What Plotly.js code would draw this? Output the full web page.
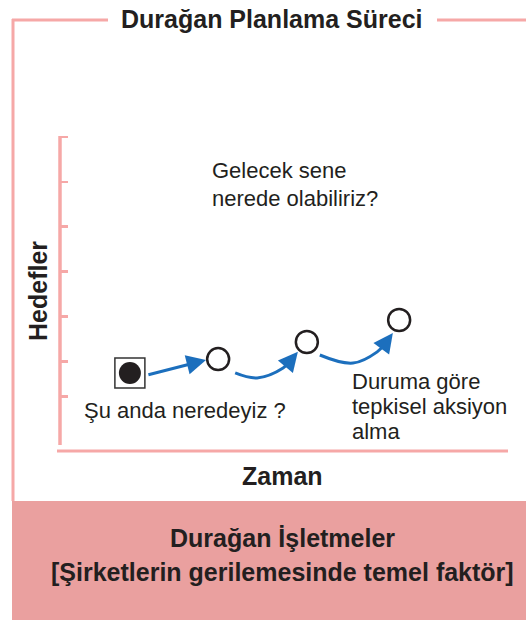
<!DOCTYPE html>
<html>
<head>
<meta charset="utf-8">
<script src="https://cdn.plot.ly/plotly-3.0.1.min.js"></script>
<style>html,body{margin:0;padding:0;background:#fff;}#chart{width:526px;height:620px;}</style>
</head>
<body>
<div id="chart"></div>
<script>
// ---- data ----
const startX = [1.56];
const startY = [1.74];
const stepX = [3.53, 5.51, 7.57];
const stepY = [2.05, 2.43, 2.92];
const arrow1X = [1.94, 3.26];
const arrow1Y = [1.69, 2.03];
const curve1X = [3.91, 4.40, 4.98, 5.16];
const curve1Y = [1.74, 1.63, 1.85, 2.03];
const curve1Tip = [5.31, 2.21];
const curve2X = [5.80, 6.54, 7.08, 7.26];
const curve2Y = [2.14, 1.96, 2.21, 2.40];
const curve2Tip = [7.43, 2.63];
const yTickVals = [1.22, 2, 3, 4, 5, 6, 7];

const titleText = 'Durağan Planlama Süreci';
const yTitle = 'Hedefler';
const xTitle = 'Zaman';
const nowLabel = 'Şu anda neredeyiz ?';
const futureLabel = ['Gelecek sene', 'nerede olabiliriz?'];
const reactLabel = ['Duruma göre', 'tepkisel aksiyon', 'alma'];
const footerLines = ['Durağan İşletmeler', '[Şirketlerin gerilemesinde temel faktör]'];

// ---- layout helpers (pixel -> paper) ----
const L = 60, R = 508, T = 133, B = 451;
const W = R - L, H = B - T;
const PX = p => (p - L) / W;
const PY = p => (B - p) / H;
const Y_TOP = 7.089;

const pink = '#f6a8a7';
const fillPink = '#eaa09f';
const blue = '#1c6fbd';
const ink = '#231f20';
const FONT = 'Liberation Sans, Arial, sans-serif';

const traces = [
  {x: curve1X, y: curve1Y, mode: 'lines', line: {color: blue, width: 3, shape: 'spline', smoothing: 1.1}, hoverinfo: 'skip'},
  {x: curve2X, y: curve2Y, mode: 'lines', line: {color: blue, width: 3, shape: 'spline', smoothing: 1.1}, hoverinfo: 'skip'},
  {x: startX, y: startY, mode: 'markers', marker: {symbol: 'square', size: 30, color: '#fff', line: {color: '#333', width: 1.5}}, hoverinfo: 'skip'},
  {x: startX, y: startY, mode: 'markers', marker: {symbol: 'circle', size: 22, color: ink, line: {width: 0}}, hoverinfo: 'skip'},
  {x: stepX, y: stepY, mode: 'markers', marker: {symbol: 'circle', size: 22, color: '#fff', line: {color: ink, width: 2.5}}, hoverinfo: 'skip'}
];

function arrowAnn(tx, ty, fx, fy) {
  return {x: tx, y: ty, ax: fx, ay: fy, xref: 'x', yref: 'y', axref: 'x', ayref: 'y',
    showarrow: true, arrowhead: 2, arrowsize: 1.3, arrowwidth: 3, arrowcolor: blue, standoff: 0, startstandoff: 0, text: ''};
}
function textAnn(text, px, py, opts) {
  return Object.assign({text: text, x: PX(px), y: PY(py), xref: 'paper', yref: 'paper', showarrow: false,
    xanchor: 'left', yanchor: 'middle', font: {family: FONT, size: 22, color: ink}}, opts || {});
}
const bold = {family: FONT, size: 25, color: ink};

const annotations = [
  arrowAnn(arrow1X[1], arrow1Y[1], arrow1X[0], arrow1Y[0]),
  arrowAnn(curve1Tip[0], curve1Tip[1], curve1X[curve1X.length - 1], curve1Y[curve1Y.length - 1]),
  arrowAnn(curve2Tip[0], curve2Tip[1], curve2X[curve2X.length - 1], curve2Y[curve2Y.length - 1]),
  textAnn(nowLabel, 82, 410),
  textAnn(futureLabel[0], 210, 170),
  textAnn(futureLabel[1], 210, 198),
  textAnn(reactLabel[0], 350, 381),
  textAnn(reactLabel[1], 350, 406),
  textAnn(reactLabel[2], 350, 431),
  textAnn('<b>' + titleText + '</b>', 272, 19, {xanchor: 'center', font: bold}),
  textAnn('<b>' + xTitle + '</b>', 282, 476, {xanchor: 'center', font: bold}),
  textAnn('<b>' + yTitle + '</b>', 38, 291, {xanchor: 'center', textangle: -90, font: bold}),
  textAnn('<b>' + footerLines[0] + '</b>', 282, 538, {xanchor: 'center', font: bold}),
  textAnn('<b>' + footerLines[1] + '</b>', 282, 572, {xanchor: 'center', font: bold})
];

const shapes = [
  {type: 'rect', xref: 'paper', yref: 'paper', x0: PX(12), x1: PX(530), y0: PY(501), y1: PY(625), fillcolor: fillPink, line: {width: 0}, layer: 'below'},
  {type: 'line', xref: 'paper', yref: 'paper', x0: PX(13), x1: PX(13), y0: PY(19), y1: PY(501), line: {color: pink, width: 3}},
  {type: 'line', xref: 'paper', yref: 'paper', x0: PX(12), x1: PX(108), y0: PY(20), y1: PY(20), line: {color: pink, width: 3}},
  {type: 'line', xref: 'paper', yref: 'paper', x0: PX(437), x1: PX(530), y0: PY(20), y1: PY(20), line: {color: pink, width: 3}},
  {type: 'line', xref: 'paper', yref: 'paper', x0: PX(60), x1: PX(60), y0: PY(136), y1: PY(445), line: {color: pink, width: 3.5}},
  {type: 'line', xref: 'paper', yref: 'paper', x0: PX(57), x1: PX(508), y0: PY(451), y1: PY(451), line: {color: pink, width: 3}}
];

const layout = {
  width: 526, height: 620,
  margin: {l: L, r: 526 - R, t: T, b: 620 - B, pad: 0},
  paper_bgcolor: '#fff', plot_bgcolor: 'rgba(0,0,0,0)',
  showlegend: false,
  xaxis: {range: [0, 10], showgrid: false, zeroline: false, showline: false, showticklabels: false, ticks: '', fixedrange: true},
  yaxis: {range: [0, Y_TOP], showgrid: false, zeroline: false, showline: false, showticklabels: false,
    tickmode: 'array', tickvals: yTickVals, ticks: 'inside', ticklen: 8, tickwidth: 2.5, tickcolor: pink, fixedrange: true},
  shapes: shapes,
  annotations: annotations
};

Plotly.newPlot('chart', traces, layout, {displayModeBar: false, staticPlot: true});
</script>
</body>
</html>
